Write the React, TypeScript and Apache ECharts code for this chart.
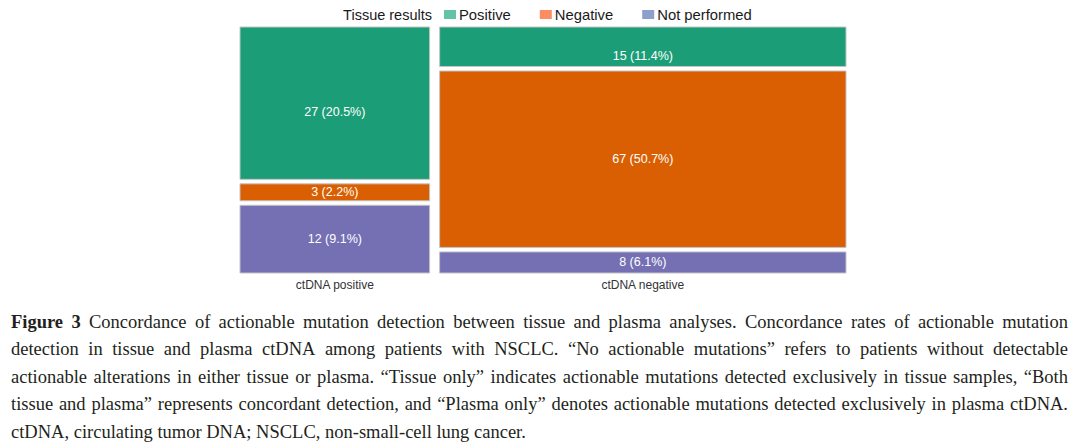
import React, { useEffect, useRef } from 'react';
import * as echarts from 'echarts';

// ctDNA status (columns) and tissue result (rows within each column)
const ctdnaGroups = ['ctDNA positive', 'ctDNA negative'];
const tissueResults = ['Positive', 'Negative', 'Not performed'];
const countsCtdnaPositive = [27, 3, 12];
const countsCtdnaNegative = [15, 67, 8];
const pctCtdnaPositive = [20.5, 2.2, 9.1];
const pctCtdnaNegative = [11.4, 50.7, 6.1];

const tileColors = ['#1b9e77', '#d95f02', '#7570b3'];
const legendColors = ['#66c2a5', '#fc8d62', '#8da0cb'];

const captionLead = 'Figure 3';
const captionLines = [
  'Concordance of actionable mutation detection between tissue and plasma analyses. Concordance rates of actionable mutation',
  'detection in tissue and plasma ctDNA among patients with NSCLC. \u201cNo actionable mutations\u201d refers to patients without detectable',
  'actionable alterations in either tissue or plasma. \u201cTissue only\u201d indicates actionable mutations detected exclusively in tissue samples, \u201cBoth',
  'tissue and plasma\u201d represents concordant detection, and \u201cPlasma only\u201d denotes actionable mutations detected exclusively in plasma ctDNA.',
  'ctDNA, circulating tumor DNA; NSCLC, non-small-cell lung cancer.',
];

const SANS = '"Liberation Sans", Arial, Helvetica, sans-serif';
const SERIF = '"Liberation Serif", "Times New Roman", serif';

// mosaic spacing, as fractions of the plotting area
const GAP_X = 0.0165;
const GAP_Y = 0.0183;

function buildTiles() {
  const cols = [countsCtdnaPositive, countsCtdnaNegative];
  const pcts = [pctCtdnaPositive, pctCtdnaNegative];
  const colTotals = cols.map((c) => c.reduce((a, b) => a + b, 0));
  const grand = colTotals.reduce((a, b) => a + b, 0);
  const usableX = 1 - GAP_X * (cols.length - 1);
  const perLayer: number[][][] = tissueResults.map(() => []);
  const columnSpans: number[][] = [];
  let x = 0;
  cols.forEach((counts, ci) => {
    const w = (usableX * colTotals[ci]) / grand;
    const usableY = 1 - GAP_Y * (counts.length - 1);
    let yTop = 1;
    counts.forEach((n, ri) => {
      const h = (usableY * n) / colTotals[ci];
      perLayer[ri].push([x, x + w, yTop - h, yTop, n, pcts[ci][ri], ri]);
      yTop -= h + GAP_Y;
    });
    columnSpans.push([x, x + w, ci]);
    x += w + GAP_X;
  });
  return { perLayer, columnSpans };
}

// justified caption: each word is placed so that full lines run flush left and right
function captionGraphics(): any[] {
  const span = document.createElement('span');
  span.style.position = 'absolute';
  span.style.visibility = 'hidden';
  span.style.whiteSpace = 'pre';
  span.style.fontFamily = SERIF;
  document.body.appendChild(span);
  const measure = (text: string, size: number, bold: boolean) => {
    span.style.fontSize = `${size}px`;
    span.style.fontWeight = bold ? 'bold' : 'normal';
    span.textContent = text;
    return span.getBoundingClientRect().width;
  };
  const left = 11;
  const right = 1068;
  const refWidth = measure(captionLines[4], 100, false);
  const size = Math.min(18.5, Math.max(13, (530 / refWidth) * 100));
  const lineTop = 322;
  const lineStep = 27.4;
  const out: any[] = [];
  captionLines.forEach((line, li) => {
    const words: { t: string; bold: boolean }[] = [];
    if (li === 0) captionLead.split(' ').forEach((t) => words.push({ t, bold: true }));
    line.split(' ').forEach((t) => words.push({ t, bold: false }));
    const widths = words.map((w) => measure(w.t, size, w.bold));
    const total = widths.reduce((a, b) => a + b, 0);
    const justify = li < captionLines.length - 1;
    const space = justify ? (right - left - total) / (words.length - 1) : measure(' ', size, false);
    let cx = left;
    const y = lineTop + li * lineStep;
    words.forEach((w, wi) => {
      out.push({
        type: 'text',
        x: cx,
        y,
        silent: true,
        style: {
          text: w.t,
          fontSize: size,
          fontFamily: SERIF,
          fontWeight: w.bold ? 'bold' : 'normal',
          fill: '#231f20',
          verticalAlign: 'middle',
          align: 'left',
        },
      });
      cx += widths[wi] + space;
    });
  });
  span.remove();
  return out;
}

export default function App() {
  const ref = useRef<HTMLDivElement>(null);
  useEffect(() => {
    if (!ref.current) return;
    const chart = echarts.init(ref.current, undefined, { renderer: 'svg' });
    const { perLayer, columnSpans } = buildTiles();

    const tileSeries = tissueResults.map((name, ri) => ({
      type: 'custom',
      name,
      data: perLayer[ri],
      encode: { x: [0, 1], y: [2, 3] },
      silent: true,
      renderItem: (params: any, api: any) => {
        const tl = api.coord([api.value(0), api.value(3)]);
        const br = api.coord([api.value(1), api.value(2)]);
        const w = br[0] - tl[0];
        const h = br[1] - tl[1];
        const drop = ri === 0 ? 9 : 0;
        return {
          type: 'group',
          children: [
            {
              type: 'rect',
              shape: { x: tl[0], y: tl[1], width: w, height: h },
              style: { fill: tileColors[ri], stroke: '#c4c4c4', lineWidth: 1 },
            },
            {
              type: 'text',
              x: tl[0] + w / 2,
              y: tl[1] + h / 2 + drop,
              style: {
                text: `${api.value(4)} (${Number(api.value(5)).toFixed(1)}%)`,
                fill: '#ffffff',
                fontSize: 12.5,
                fontFamily: SANS,
                align: 'center',
                verticalAlign: 'middle',
              },
            },
          ],
        };
      },
    }));

    const axisLabelSeries = {
      type: 'custom',
      name: 'ctDNA status',
      data: columnSpans,
      encode: { x: [0, 1] },
      silent: true,
      renderItem: (params: any, api: any) => {
        const p = api.coord([(api.value(0) + api.value(1)) / 2, 0]);
        return {
          type: 'text',
          x: p[0],
          y: p[1] + 12,
          style: {
            text: ctdnaGroups[api.value(2)],
            fill: '#333333',
            fontSize: 12,
            fontFamily: SANS,
            align: 'center',
            verticalAlign: 'middle',
          },
        };
      },
    };

    chart.setOption({
      animation: false,
      backgroundColor: '#ffffff',
      grid: { left: 240, right: 234, top: 27, bottom: 172 },
      xAxis: { type: 'value', min: 0, max: 1, show: false },
      yAxis: { type: 'value', min: 0, max: 1, show: false },
      legend: {
        data: tissueResults.map((name, i) => ({ name, itemStyle: { color: legendColors[i] } })),
        left: 444,
        top: 7,
        padding: 0,
        icon: 'rect',
        itemWidth: 12,
        itemHeight: 9,
        itemGap: 29,
        selectedMode: false,
        textStyle: { fontSize: 14.8, fontFamily: SANS, color: '#1a1a1a', padding: [0, 0, 0, -2] },
      },
      graphic: [
        {
          type: 'text',
          x: 432,
          y: 14.5,
          silent: true,
          style: {
            text: 'Tissue results',
            fontSize: 14.5,
            fontFamily: SANS,
            fill: '#1a1a1a',
            align: 'right',
            verticalAlign: 'middle',
          },
        },
        ...captionGraphics(),
      ],
      series: [...tileSeries, axisLabelSeries],
    });
    return () => chart.dispose();
  }, []);
  return <div ref={ref} style={{ position: 'absolute', left: 0, top: 0, width: 1080, height: 445 }} />;
}
